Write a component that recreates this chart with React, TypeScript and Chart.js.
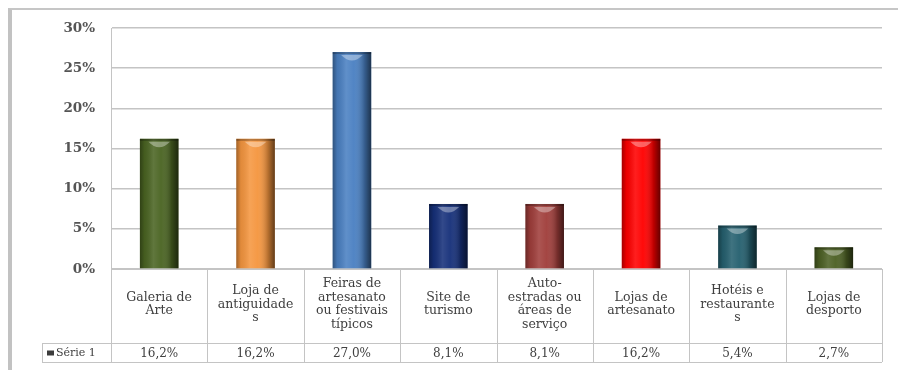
import React, { useEffect, useRef } from "react";
import { Chart, registerables } from "chart.js";

Chart.register(...registerables);

const categories: string[][] = [
  ["Galeria de", "Arte"],
  ["Loja de", "antiguidade", "s"],
  ["Feiras de", "artesanato", "ou festivais", "típicos"],
  ["Site de", "turismo"],
  ["Auto-", "estradas ou", "áreas de", "serviço"],
  ["Lojas de", "artesanato"],
  ["Hotéis e", "restaurante", "s"],
  ["Lojas de", "desporto"],
];

const seriesName = "Série 1";
const values: number[] = [16.2, 16.2, 27.0, 8.1, 8.1, 16.2, 5.4, 2.7];
const barColors: string[] = [
  "#4a6422",
  "#f5963f",
  "#4a80c2",
  "#16307a",
  "#a03e3b",
  "#ff0000",
  "#25606f",
  "#4c6024",
];
const yTicks: number[] = [0, 5, 10, 15, 20, 25, 30];

const FONT = "'DejaVu Serif', serif";
const LINE = "#c4c4c4";

const cylinderPlugin = {
  id: "cylinder",
  afterDatasetsDraw(chart: any) {
    const ctx = chart.ctx;
    const meta = chart.getDatasetMeta(0);
    meta.data.forEach((el: any) => {
      const { x, y, base, width } = el.getProps(["x", "y", "base", "width"], true);
      const left = x - width / 2;
      const h = base - y;
      ctx.save();
      const g = ctx.createLinearGradient(left, 0, left + width, 0);
      g.addColorStop(0, "rgba(0,0,0,0.35)");
      g.addColorStop(0.12, "rgba(0,0,0,0.08)");
      g.addColorStop(0.35, "rgba(255,255,255,0.12)");
      g.addColorStop(0.55, "rgba(255,255,255,0.04)");
      g.addColorStop(0.82, "rgba(0,0,0,0.25)");
      g.addColorStop(1, "rgba(0,0,0,0.6)");
      ctx.fillStyle = g;
      ctx.fillRect(left, y, width, h);
      ctx.fillStyle = "rgba(0,0,0,0.25)";
      ctx.fillRect(left, y, width, 2);
      ctx.beginPath();
      ctx.moveTo(x - width * 0.28, y + 3);
      ctx.lineTo(x + width * 0.28, y + 3);
      ctx.quadraticCurveTo(x, y + 14, x - width * 0.28, y + 3);
      ctx.closePath();
      ctx.fillStyle = "rgba(255,255,255,0.35)";
      ctx.fill();
      ctx.restore();
    });
  },
};

const tablePlugin = {
  id: "dataTable",
  afterDraw(chart: any) {
    const ctx = chart.ctx;
    const xs = chart.scales.x;
    const area = chart.chartArea;
    const n = categories.length;
    const catW = (xs.right - xs.left) / n;
    const rowTop = xs.bottom;
    const rowBottom = rowTop + 19;
    const legendLeft = 42;
    ctx.save();
    ctx.strokeStyle = LINE;
    ctx.lineWidth = 1;
    ctx.beginPath();
    for (let k = 0; k <= n; k++) {
      const bx = Math.round(xs.left + k * catW) + 0.5;
      ctx.moveTo(bx, area.bottom);
      ctx.lineTo(bx, rowBottom);
    }
    ctx.moveTo(legendLeft, rowTop + 0.5);
    ctx.lineTo(xs.right, rowTop + 0.5);
    ctx.moveTo(legendLeft, rowBottom + 0.5);
    ctx.lineTo(xs.right, rowBottom + 0.5);
    ctx.moveTo(legendLeft + 0.5, rowTop);
    ctx.lineTo(legendLeft + 0.5, rowBottom);
    ctx.stroke();

    const midY = (rowTop + rowBottom) / 2 + 1;
    ctx.fillStyle = "#404040";
    ctx.font = `12px ${FONT}`;
    ctx.textAlign = "center";
    ctx.textBaseline = "middle";
    values.forEach((v, i) => {
      const cx = xs.getPixelForValue(i);
      ctx.fillText(v.toFixed(1).replace(".", ",") + "%", cx, midY);
    });
    ctx.fillStyle = "#3c3c3c";
    ctx.fillRect(legendLeft + 5, midY - 3, 7, 5);
    ctx.fillStyle = "#404040";
    ctx.font = `11px ${FONT}`;
    ctx.textAlign = "left";
    ctx.fillText(seriesName, legendLeft + 14, midY);
    ctx.restore();
  },
};

export default function App() {
  const ref = useRef<HTMLCanvasElement | null>(null);

  useEffect(() => {
    if (!ref.current) return;
    const chart = new Chart(ref.current, {
      type: "bar",
      data: {
        labels: categories,
        datasets: [
          {
            label: seriesName,
            data: values,
            backgroundColor: barColors,
            borderWidth: 0,
            barPercentage: 0.4,
            categoryPercentage: 1,
          },
        ],
      },
      options: {
        responsive: false,
        animation: false,
        layout: { padding: { left: 0, right: 16, top: 28, bottom: 27 } },
        plugins: {
          legend: { display: false },
          tooltip: { enabled: false },
        },
        scales: {
          x: {
            offset: true,
            grid: { display: false },
            border: { display: true, color: LINE, width: 1 },
            ticks: {
              autoSkip: false,
              maxRotation: 0,
              crossAlign: "center",
              padding: 7,
              color: "#404040",
              font: { family: FONT, size: 12.5, lineHeight: 1.08 },
            },
            afterFit: (s: any) => {
              s.height = 74;
            },
          },
          y: {
            min: 0,
            max: 30,
            afterBuildTicks: (s: any) => {
              s.ticks = yTicks.map((v) => ({ value: v }));
            },
            grid: { color: LINE, lineWidth: 1.5, drawTicks: false },
            border: { display: true, color: LINE, width: 1 },
            ticks: {
              padding: 16,
              color: "#555555",
              font: { family: FONT, size: 13.5, weight: "bold" },
              callback: (v: any) => `${v}%`,
            },
            afterFit: (s: any) => {
              s.width = 111;
            },
          },
        },
      },
      plugins: [cylinderPlugin, tablePlugin],
    });
    return () => chart.destroy();
  }, []);

  return (
    <div style={{ position: "absolute", left: 0, top: 0, width: 898, height: 370, background: "#fff" }}>
      <div
        style={{
          position: "absolute",
          left: 8,
          top: 8,
          width: 890,
          height: 362,
          borderLeft: "4px solid #c2c2c2",
          borderTop: "2px solid #c6c6c6",
          boxSizing: "border-box",
        }}
      />
      <canvas ref={ref} width={898} height={370} style={{ position: "absolute", left: 0, top: 0 }} />
    </div>
  );
}
